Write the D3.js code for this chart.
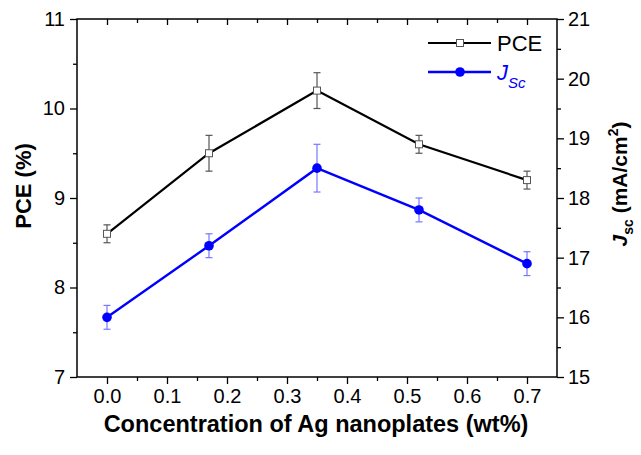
<!DOCTYPE html>
<html><head><meta charset="utf-8">
<script src="https://cdn.jsdelivr.net/npm/d3@7"></script>
<style>
body{margin:0;background:#fff;}
svg{display:block;font-family:"Liberation Sans",Arial,sans-serif;}
</style></head>
<body><svg id="c" width="641" height="455"></svg>
<script>
// ---- data ----
const concentrations = [0.0, 0.17, 0.35, 0.52, 0.7];
const pce = [8.6, 9.5, 10.2, 9.6, 9.2];
const pceErr = [0.1, 0.2, 0.2, 0.1, 0.1];
const jsc = [16.0, 17.2, 18.5, 17.8, 16.9];
const jscErr = [0.2, 0.2, 0.4, 0.2, 0.2];
const xTicks = [0.0, 0.1, 0.2, 0.3, 0.4, 0.5, 0.6, 0.7];
const xMinor = [0.05, 0.15, 0.25, 0.35, 0.45, 0.55, 0.65];
const yLeftTicks = [7, 8, 9, 10, 11];
const yLeftMinor = [7.5, 8.5, 9.5, 10.5];
const yRightTicks = [15, 16, 17, 18, 19, 20, 21];
const yRightMinor = [15.5, 16.5, 17.5, 18.5, 19.5, 20.5];

const L = 77, R = 557, T = 19, B = 377;
const svg = d3.select("#c");
const x = d3.scaleLinear().domain([-0.05, 0.75]).range([L, R]);
const yL = d3.scaleLinear().domain([7, 11]).range([B, T]);
const yR = d3.scaleLinear().domain([15, 21]).range([B, T]);

function styleAxis(g, fs){
  g.select(".domain").remove();
  g.selectAll(".tick line").attr("stroke","#000").attr("stroke-width",1.3);
  g.selectAll("text").attr("fill","#000").style("font-size",fs+"px").style("font-family","'Liberation Sans',Arial,sans-serif");
}
// bottom
svg.append("g").attr("transform",`translate(0,${B})`)
  .call(d3.axisBottom(x).tickValues(xTicks).tickSize(7).tickPadding(5).tickFormat(d3.format(".1f")))
  .call(g=>styleAxis(g,20));
svg.append("g").attr("transform",`translate(0,${B})`)
  .call(d3.axisBottom(x).tickValues(xMinor).tickSize(4).tickFormat(""))
  .call(g=>styleAxis(g,20));
// top (inward)
svg.append("g").attr("transform",`translate(0,${T})`)
  .call(d3.axisBottom(x).tickValues(xTicks).tickSize(6).tickFormat(""))
  .call(g=>styleAxis(g,20));
svg.append("g").attr("transform",`translate(0,${T})`)
  .call(d3.axisBottom(x).tickValues(xMinor).tickSize(4).tickFormat(""))
  .call(g=>styleAxis(g,20));
// left
svg.append("g").attr("transform",`translate(${L},0)`)
  .call(d3.axisLeft(yL).tickValues(yLeftTicks).tickSize(7).tickPadding(5).tickFormat(d3.format("d")))
  .call(g=>styleAxis(g,20));
svg.append("g").attr("transform",`translate(${L},0)`)
  .call(d3.axisLeft(yL).tickValues(yLeftMinor).tickSize(4).tickFormat(""))
  .call(g=>styleAxis(g,20));
// right
svg.append("g").attr("transform",`translate(${R},0)`)
  .call(d3.axisRight(yR).tickValues(yRightTicks).tickSize(7).tickPadding(4).tickFormat(d3.format("d")))
  .call(g=>styleAxis(g,20));
svg.append("g").attr("transform",`translate(${R},0)`)
  .call(d3.axisRight(yR).tickValues(yRightMinor).tickSize(4).tickFormat(""))
  .call(g=>styleAxis(g,20));

// frame
svg.append("rect").attr("x",L).attr("y",T).attr("width",R-L).attr("height",B-T)
  .attr("fill","none").attr("stroke","#000").attr("stroke-width",1.5);

// error bars
function errBars(vals, errs, ys, color){
  const g = svg.append("g").attr("stroke",color).attr("stroke-width",1.2).attr("fill","none");
  concentrations.forEach((c,i)=>{
    const cx = x(c), y1 = ys(vals[i]+errs[i]), y0 = ys(vals[i]-errs[i]);
    g.append("line").attr("x1",cx).attr("x2",cx).attr("y1",y1).attr("y2",y0);
    g.append("line").attr("x1",cx-3.5).attr("x2",cx+3.5).attr("y1",y1).attr("y2",y1);
    g.append("line").attr("x1",cx-3.5).attr("x2",cx+3.5).attr("y1",y0).attr("y2",y0);
  });
}
errBars(pce, pceErr, yL, "#555");
errBars(jsc, jscErr, yR, "#7777ff");

// lines
const pceLine = d3.line().x((d,i)=>x(concentrations[i])).y(d=>yL(d));
const jscLine = d3.line().x((d,i)=>x(concentrations[i])).y(d=>yR(d));
svg.append("path").attr("d",pceLine(pce)).attr("fill","none").attr("stroke","#000").attr("stroke-width",2.2);
svg.append("path").attr("d",jscLine(jsc)).attr("fill","none").attr("stroke","#0000ff").attr("stroke-width",2.4);

// markers
svg.append("g").selectAll("rect").data(pce).join("rect")
  .attr("x",(d,i)=>x(concentrations[i])-3.5).attr("y",d=>yL(d)-3.5)
  .attr("width",7).attr("height",7).attr("fill","#fff").attr("stroke","#555").attr("stroke-width",1);
svg.append("g").selectAll("circle").data(jsc).join("circle")
  .attr("cx",(d,i)=>x(concentrations[i])).attr("cy",d=>yR(d)).attr("r",4.8).attr("fill","#0000ff");

// legend
const lg = svg.append("g");
lg.append("line").attr("x1",428).attr("x2",491).attr("y1",43).attr("y2",43).attr("stroke","#000").attr("stroke-width",2.2);
lg.append("rect").attr("x",456.5).attr("y",39.5).attr("width",7).attr("height",7).attr("fill","#fff").attr("stroke","#555");
lg.append("text").attr("x",497).attr("y",51).style("font-size","22px").attr("fill","#000").text("PCE");
lg.append("line").attr("x1",428).attr("x2",491).attr("y1",72).attr("y2",72).attr("stroke","#0000ff").attr("stroke-width",2.4);
lg.append("circle").attr("cx",460).attr("cy",72).attr("r",4.8).attr("fill","#0000ff");
const jt = lg.append("text").attr("x",497).attr("y",80).attr("fill","#0000ff").style("font-size","22px").style("font-style","italic");
jt.append("tspan").text("J");
jt.append("tspan").attr("dy",8).style("font-size","15px").text("Sc");

// axis titles
svg.append("text").attr("x",316).attr("y",432).attr("text-anchor","middle")
  .style("font-size","23.5px").style("font-weight","bold").text("Concentration of Ag nanoplates (wt%)");
svg.append("text").attr("transform","translate(31,186) rotate(-90)").attr("text-anchor","middle")
  .style("font-size","22px").style("font-weight","bold").text("PCE (%)");
const rt = svg.append("text").attr("transform","translate(627,184) rotate(-90)").attr("text-anchor","middle")
  .style("font-size","21px").style("font-weight","bold");
rt.append("tspan").style("font-style","italic").text("J");
rt.append("tspan").attr("dy",6).style("font-size","14px").text("sc");
rt.append("tspan").attr("dy",-6).text(" (mA/cm");
rt.append("tspan").attr("dy",-9).style("font-size","14px").text("2");
rt.append("tspan").attr("dy",9).text(")");
</script></body></html>
